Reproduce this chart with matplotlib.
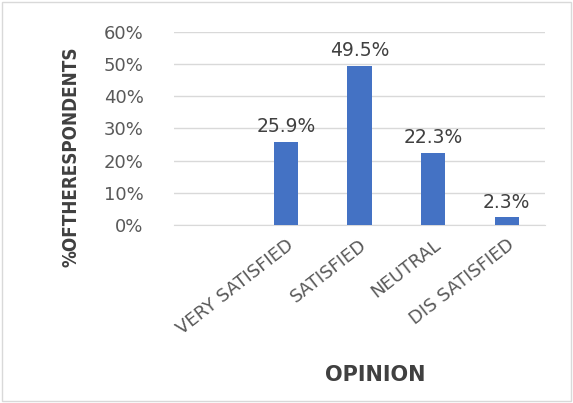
import numpy as np
import matplotlib.pyplot as plt
from matplotlib.patches import Rectangle

# Data
categories = ['VERY SATISFIED', 'SATISFIED', 'NEUTRAL', 'DIS SATISFIED']
values = [25.9, 49.5, 22.3, 2.3]
yticks = [0, 10, 20, 30, 40, 50, 60]

fig = plt.figure(figsize=(5.73, 4.03), dpi=100)
ax = fig.add_axes([0.304, 0.442, 0.647, 0.479])

x = np.arange(len(categories))
ax.bar(x, values, width=0.33, color='#4472C4', zorder=3)

for xi, v in zip(x, values):
    ax.text(xi, v + 1.8, f'{v}%', ha='center', va='bottom',
            fontsize=13.5, color='#404040')

ax.set_xlim(-1.52, 3.52)
ax.set_ylim(0, 60)
ax.set_yticks(yticks)
ax.set_yticklabels([f'{t}%' for t in yticks], fontsize=13, color='#595959')
ax.yaxis.grid(True, color='#D9D9D9', linewidth=1, zorder=0)
ax.tick_params(axis='both', length=0)
ax.tick_params(axis='y', pad=22)
ax.tick_params(axis='x', pad=8)
ax.set_xticks(x)
ax.set_xticklabels(categories, rotation=38, ha='right', rotation_mode='anchor',
                   fontsize=13, color='#595959')
for s in ['top', 'right', 'left']:
    ax.spines[s].set_visible(False)
ax.spines['bottom'].set_color('#D9D9D9')

fig.text(0.124, 0.61, '%OFTHERESPONDENTS', rotation=90, ha='center', va='center',
         fontsize=13.5, fontweight='bold', color='#404040', fontstretch='condensed')
fig.text(0.655, 0.07, 'OPINION', ha='center', va='center',
         fontsize=15, fontweight='bold', color='#404040')

fig.patches.append(Rectangle((0.004, 0.004), 0.992, 0.992, transform=fig.transFigure,
                             fill=False, edgecolor='#D9D9D9', linewidth=1))

fig.savefig('out.png', dpi=100)
